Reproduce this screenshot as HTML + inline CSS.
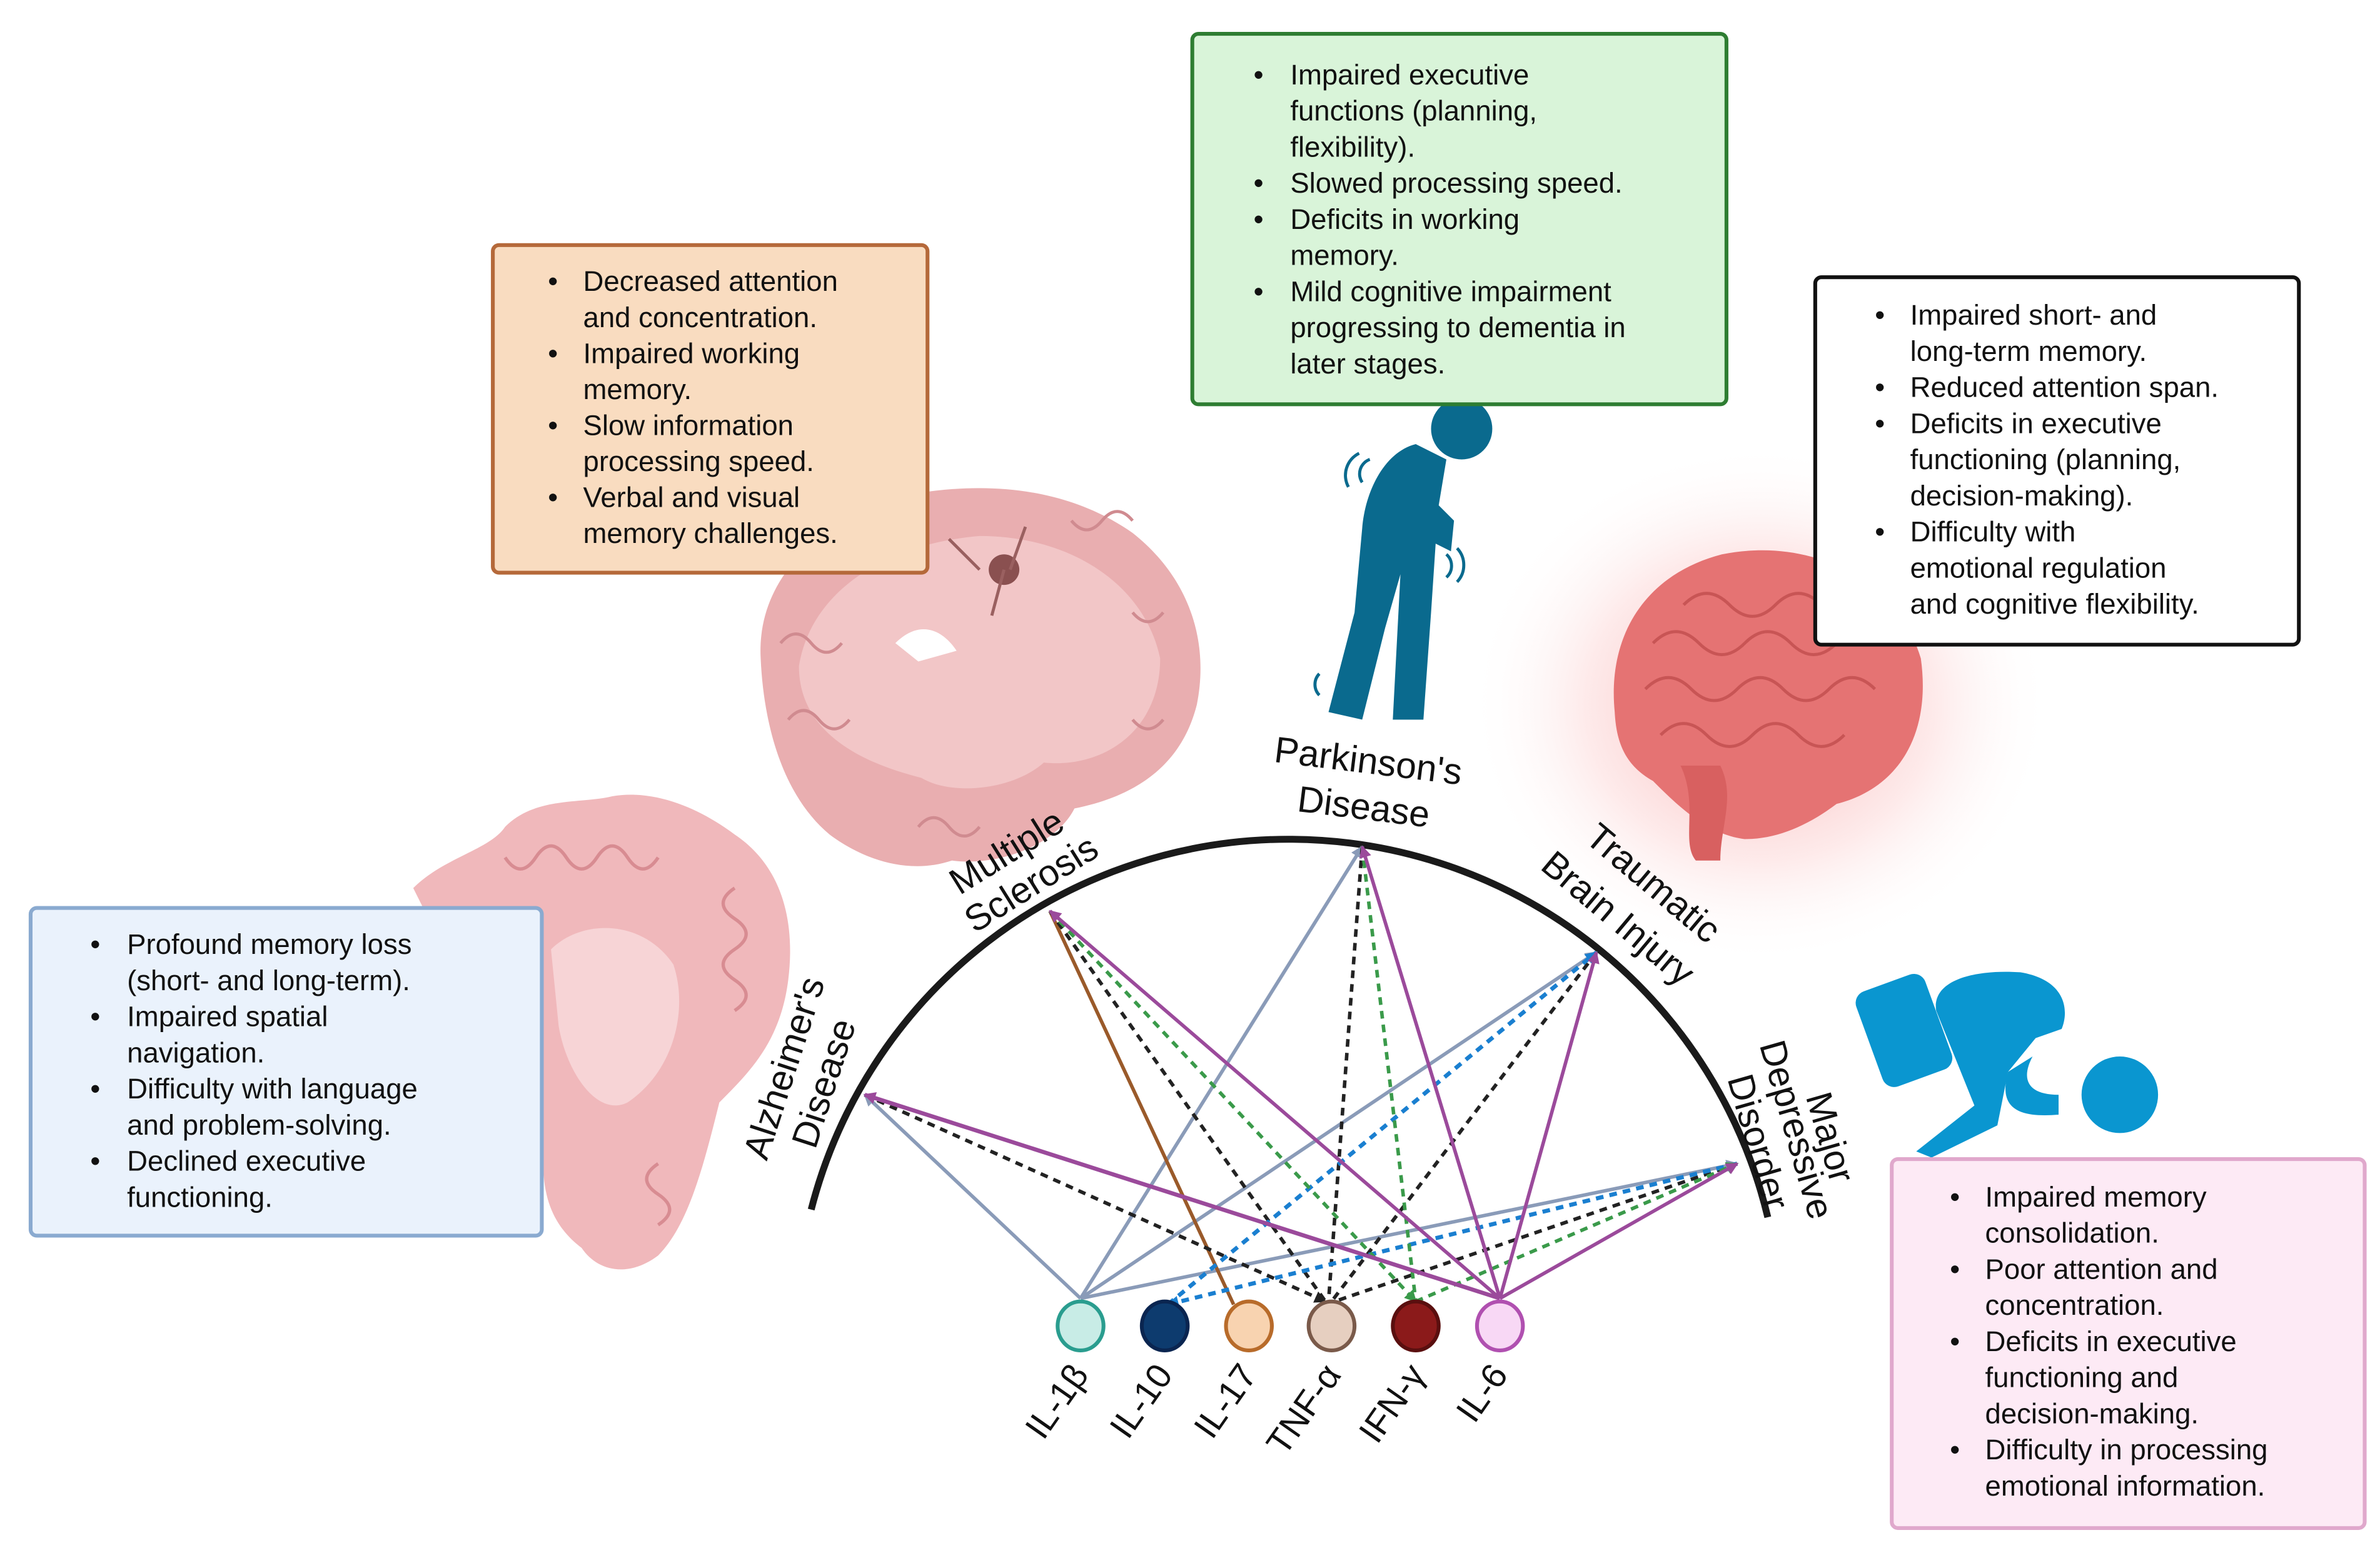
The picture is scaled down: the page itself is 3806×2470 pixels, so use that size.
<!DOCTYPE html>
<html><head><meta charset="utf-8"><style>
html,body{margin:0;padding:0;background:#fff}
svg{display:block}
text{font-family:"Liberation Sans",sans-serif;fill:#111}
.b{font-size:18.6px}
.d{font-size:24px}
.c{font-size:23px}
</style></head><body>
<svg width="3806" height="2470" viewBox="0 0 1555 1009" xmlns="http://www.w3.org/2000/svg">
<defs>
<radialGradient id="glow" cx="0.5" cy="0.5" r="0.5">
<stop offset="0" stop-color="#f05050" stop-opacity="0.5"/>
<stop offset="0.6" stop-color="#f8a0a0" stop-opacity="0.22"/>
<stop offset="1" stop-color="#fff" stop-opacity="0"/>
</radialGradient>
<marker id="mp" markerWidth="8" markerHeight="8" refX="7" refY="4" orient="auto" markerUnits="userSpaceOnUse"><path d="M0,0L8,4L0,8Z" fill="#9b4a9b"/></marker>
<marker id="mg" markerWidth="8" markerHeight="8" refX="7" refY="4" orient="auto" markerUnits="userSpaceOnUse"><path d="M0,0L8,4L0,8Z" fill="#3a9a4a"/></marker>
<marker id="mk" markerWidth="8" markerHeight="8" refX="7" refY="4" orient="auto" markerUnits="userSpaceOnUse"><path d="M0,0L8,4L0,8Z" fill="#222"/></marker>
<marker id="mb" markerWidth="8" markerHeight="8" refX="7" refY="4" orient="auto" markerUnits="userSpaceOnUse"><path d="M0,0L8,4L0,8Z" fill="#1a7fd0"/></marker>
<marker id="ms" markerWidth="8" markerHeight="8" refX="7" refY="4" orient="auto" markerUnits="userSpaceOnUse"><path d="M0,0L8,4L0,8Z" fill="#8a9bb8"/></marker>
</defs>

<!-- TBI glow and brain -->
<ellipse cx="1150" cy="460" rx="190" ry="170" fill="url(#glow)"/>
<path d="M1055,465 C1050,415 1075,375 1125,362 C1185,350 1240,380 1255,430 C1262,480 1240,515 1200,525 C1180,540 1160,548 1140,548 C1115,545 1095,525 1080,510 C1062,500 1056,485 1055,465Z" fill="#e57373"/>
<g fill="none" stroke="#c85555" stroke-width="2">
<path d="M1080,420 q15,-15 30,0 t30,0 t30,0 t30,0"/>
<path d="M1075,450 q15,-15 30,0 t30,0 t30,0 t30,0 t30,0"/>
<path d="M1085,480 q15,-15 30,0 t30,0 t30,0 t30,0"/>
<path d="M1100,395 q15,-15 30,0 t30,0 t30,0"/>
</g>
<path d="M1098,500 C1110,525 1098,550 1108,562 L1124,562 C1124,540 1134,520 1124,500Z" fill="#d86060"/>

<!-- MS brain -->
<path d="M497,430 C494,375 540,335 600,322 C650,314 700,320 740,348 C778,378 790,420 782,460 C772,500 742,520 702,528 C690,552 652,566 622,562 C592,572 562,560 542,545 C512,520 499,475 497,430Z" fill="#e9aeb0"/>
<path d="M522,435 C530,385 580,355 640,350 C700,350 748,382 758,430 C758,478 720,502 682,498 C662,516 622,520 602,508 C562,498 522,478 522,435Z" fill="#f2c6c7"/>
<g fill="none" stroke="#d08b90" stroke-width="2">
<path d="M510,420 q10,-12 20,0 t20,0"/><path d="M515,470 q10,-12 20,0 t20,0"/>
<path d="M700,340 q10,12 20,0 t20,0"/><path d="M740,400 q10,12 20,0"/>
<path d="M740,470 q10,12 20,0"/><path d="M600,540 q10,-12 20,0 t20,0"/>
<path d="M560,340 q10,12 20,0 t20,0"/>
</g>
<circle cx="656" cy="372" r="10" fill="#8a5050"/>
<path d="M640,372 l-20,-20 M660,372 l10,-28 M656,372 l-8,30" stroke="#9a6060" stroke-width="2"/>
<path d="M585,420 C600,405 615,410 625,425 L600,432Z" fill="#fff"/>
<!-- AD brain -->
<path d="M270,580 C290,560 320,555 330,540 C350,520 380,525 400,520 C430,515 460,530 480,545 C510,565 520,600 515,640 C510,680 490,700 470,720 C460,760 450,800 430,820 C410,835 390,830 380,815 C360,800 355,780 355,760 L340,700 C320,650 300,620 280,600Z" fill="#f0b8bb"/>
<g fill="none" stroke="#d88c92" stroke-width="2.2">
<path d="M330,560 q10,15 20,0 t20,0 t20,0 t20,0 t20,0"/>
<path d="M480,580 q-15,10 0,20 t0,20 t0,20 t0,20"/>
<path d="M430,760 q-15,10 0,20 t0,20"/>
<path d="M300,600 q10,15 20,0"/>
</g>
<path d="M360,620 C380,600 420,600 440,630 C450,660 440,700 410,720 C390,730 370,700 365,670Z" fill="#f7d4d6"/>

<!-- Parkinson figure -->
<g fill="#0a6a8e">
<circle cx="955" cy="280" r="20"/>
<path d="M925,290 C905,295 892,320 890,345 L885,400 L868,465 L890,470 L905,410 L915,375 L910,470 L930,470 L935,400 L938,355 L948,360 L950,340 L940,330 L945,300 Z"/>
</g>
<g fill="none" stroke="#0a6a8e" stroke-width="2">
<path d="M895,300 a10,10 0 0 0 -5,15"/><path d="M888,296 a16,16 0 0 0 -7,22"/>
<path d="M945,362 a10,10 0 0 1 0,15"/><path d="M952,358 a16,16 0 0 1 0,22"/>
<path d="M862,440 a10,10 0 0 0 0,14"/>
</g>

<!-- MDD figure -->
<g fill="#0a96d0">
<rect x="1220" y="640" width="48" height="66" rx="8" transform="rotate(-20 1244 673)"/>
<path d="M1265,660 C1262,640 1290,633 1320,635 C1350,640 1352,660 1347,672 L1330,678 L1312,700 L1305,735 L1262,756 L1252,752 L1290,722 Z"/>
<path d="M1312,700 C1305,725 1320,730 1345,728 L1345,715 C1325,715 1320,705 1328,690Z"/>
<circle cx="1385" cy="715" r="25"/>
</g>

<!-- Arc -->
<path d="M530,790 A322,322 0 0 1 1155,795" fill="none" stroke="#1a1a1a" stroke-width="4.5"/>

<!-- connectors -->
<g fill="none" stroke-width="2.3">
<line x1="706" y1="848" x2="565" y2="715" stroke="#8a9bb8" marker-end="url(#ms)"/>
<line x1="706" y1="848" x2="890" y2="553" stroke="#8a9bb8" marker-end="url(#ms)"/>
<line x1="706" y1="848" x2="1043" y2="622" stroke="#8a9bb8" marker-end="url(#ms)"/>
<line x1="706" y1="848" x2="1135" y2="760" stroke="#8a9bb8" marker-end="url(#ms)"/>
<line x1="806" y1="852" x2="686" y2="595" stroke="#9a5a2a"/>
<g stroke="#222" stroke-dasharray="5,4">
<line x1="565" y1="715" x2="866" y2="850" marker-end="url(#mk)"/>
<line x1="686" y1="595" x2="866" y2="850"/>
<line x1="890" y1="553" x2="868" y2="850"/>
<line x1="1043" y1="622" x2="870" y2="850"/>
<line x1="1135" y1="760" x2="872" y2="850"/>
</g>
<g stroke="#1a7fd0" stroke-dasharray="5,4" stroke-width="2.7">
<line x1="763" y1="852" x2="1043" y2="622" marker-end="url(#mb)"/>
<line x1="1135" y1="760" x2="763" y2="852" marker-end="url(#mb)"/>
</g>
<g stroke="#3a9a4a" stroke-dasharray="5,4">
<line x1="686" y1="595" x2="925" y2="850" marker-end="url(#mg)"/>
<line x1="890" y1="553" x2="925" y2="850"/>
<line x1="925" y1="850" x2="1135" y2="760" marker-end="url(#mg)"/>
</g>
<g stroke="#9b4a9b">
<line x1="980" y1="848" x2="565" y2="715" marker-end="url(#mp)" stroke-width="2.7"/>
<line x1="980" y1="848" x2="686" y2="595" marker-end="url(#mp)"/>
<line x1="980" y1="848" x2="890" y2="553" marker-end="url(#mp)"/>
<line x1="980" y1="848" x2="1043" y2="622" marker-end="url(#mp)"/>
<line x1="980" y1="848" x2="1135" y2="760" marker-end="url(#mp)"/>
</g>
</g>

<!-- cytokine nodes -->
<g stroke-width="2.5">
<ellipse cx="706" cy="866" rx="15" ry="16" fill="#c8ece6" stroke="#2a9d8f"/>
<ellipse cx="761" cy="866" rx="15" ry="16" fill="#0d3b6e" stroke="#0a2550"/>
<ellipse cx="816" cy="866" rx="15" ry="16" fill="#f8d3b0" stroke="#b86b2a"/>
<ellipse cx="870" cy="866" rx="15" ry="16" fill="#e6cfc0" stroke="#7a5a4a"/>
<ellipse cx="925" cy="866" rx="15" ry="16" fill="#8b1a1a" stroke="#5a0f0f"/>
<ellipse cx="980" cy="866" rx="15" ry="16" fill="#f8d8f5" stroke="#b050b0"/>
</g>
<g class="c">
<text transform="translate(712,898) rotate(-55)" text-anchor="end">IL-1β</text>
<text transform="translate(767,898) rotate(-55)" text-anchor="end">IL-10</text>
<text transform="translate(822,898) rotate(-55)" text-anchor="end">IL-17</text>
<text transform="translate(877,898) rotate(-55)" text-anchor="end">TNF-α</text>
<text transform="translate(932,898) rotate(-55)" text-anchor="end">IFN-γ</text>
<text transform="translate(986,898) rotate(-55)" text-anchor="end">IL-6</text>
</g>

<!-- disease labels -->
<g class="d" text-anchor="middle">
<text transform="translate(520,700) rotate(-72)">Alzheimer's</text>
<text transform="translate(546,710) rotate(-72)">Disease</text>
<text transform="translate(662,563) rotate(-32)">Multiple</text>
<text transform="translate(678,584) rotate(-32)">Sclerosis</text>
<text transform="translate(893,505) rotate(7)">Parkinson's</text>
<text transform="translate(890,535) rotate(7)">Disease</text>
<text transform="translate(1075,583) rotate(40)">Traumatic</text>
<text transform="translate(1052,606) rotate(40)">Brain Injury</text>
<text transform="translate(1188,745) rotate(74)">Major</text>
<text transform="translate(1166,740) rotate(74)">Depressive</text>
<text transform="translate(1141,748) rotate(74)">Disorder</text>
</g>

<!-- Boxes -->
<rect x="322" y="160" width="284" height="214" rx="4" fill="#f9dcc0" stroke="#b5693a" stroke-width="2.5"/>
<g class="b">
<text x="358" y="190">•</text>
<text x="381" y="190">Decreased attention</text><text x="381" y="213.6">and concentration.</text>
<text x="358" y="237">•</text>
<text x="381" y="237">Impaired working</text><text x="381" y="260.6">memory.</text>
<text x="358" y="284">•</text>
<text x="381" y="284">Slow information</text><text x="381" y="307.6">processing speed.</text>
<text x="358" y="331">•</text>
<text x="381" y="331">Verbal and visual</text><text x="381" y="354.6">memory challenges.</text>
</g>

<rect x="779" y="22" width="349" height="242" rx="4" fill="#d9f4d9" stroke="#2e7d32" stroke-width="2.5"/>
<g class="b">
<text x="819" y="55">•</text>
<text x="843" y="55">Impaired executive</text><text x="843" y="78.6">functions (planning,</text><text x="843" y="102.2">flexibility).</text>
<text x="819" y="125.8">•</text><text x="843" y="125.8">Slowed processing speed.</text>
<text x="819" y="149.4">•</text><text x="843" y="149.4">Deficits in working</text><text x="843" y="173">memory.</text>
<text x="819" y="196.6">•</text><text x="843" y="196.6">Mild cognitive impairment</text><text x="843" y="220.2">progressing to dementia in</text><text x="843" y="243.8">later stages.</text>
</g>

<rect x="1186" y="181" width="316" height="240" rx="4" fill="#fff" stroke="#111" stroke-width="2.5"/>
<g class="b">
<text x="1225" y="212">•</text><text x="1248" y="212">Impaired short- and</text><text x="1248" y="235.6">long-term memory.</text>
<text x="1225" y="259.2">•</text><text x="1248" y="259.2">Reduced attention span.</text>
<text x="1225" y="282.8">•</text><text x="1248" y="282.8">Deficits in executive</text><text x="1248" y="306.4">functioning (planning,</text><text x="1248" y="330">decision-making).</text>
<text x="1225" y="353.6">•</text><text x="1248" y="353.6">Difficulty with</text><text x="1248" y="377.2">emotional regulation</text><text x="1248" y="400.8">and cognitive flexibility.</text>
</g>

<rect x="20" y="593" width="334" height="214" rx="4" fill="#eaf2fc" stroke="#8aaad0" stroke-width="2.5"/>
<g class="b">
<text x="59" y="623">•</text><text x="83" y="623">Profound memory loss</text><text x="83" y="646.6">(short- and long-term).</text>
<text x="59" y="670.2">•</text><text x="83" y="670.2">Impaired spatial</text><text x="83" y="693.8">navigation.</text>
<text x="59" y="717.4">•</text><text x="83" y="717.4">Difficulty with language</text><text x="83" y="741">and problem-solving.</text>
<text x="59" y="764.6">•</text><text x="83" y="764.6">Declined executive</text><text x="83" y="788.2">functioning.</text>
</g>

<rect x="1236" y="757" width="309" height="241" rx="4" fill="#fdeaf5" stroke="#e0a8cc" stroke-width="2.5"/>
<g class="b">
<text x="1274" y="788">•</text><text x="1297" y="788">Impaired memory</text><text x="1297" y="811.6">consolidation.</text>
<text x="1274" y="835.2">•</text><text x="1297" y="835.2">Poor attention and</text><text x="1297" y="858.8">concentration.</text>
<text x="1274" y="882.4">•</text><text x="1297" y="882.4">Deficits in executive</text><text x="1297" y="906">functioning and</text><text x="1297" y="929.6">decision-making.</text>
<text x="1274" y="953.2">•</text><text x="1297" y="953.2">Difficulty in processing</text><text x="1297" y="976.8">emotional information.</text>
</g>
</svg>
</body></html>
